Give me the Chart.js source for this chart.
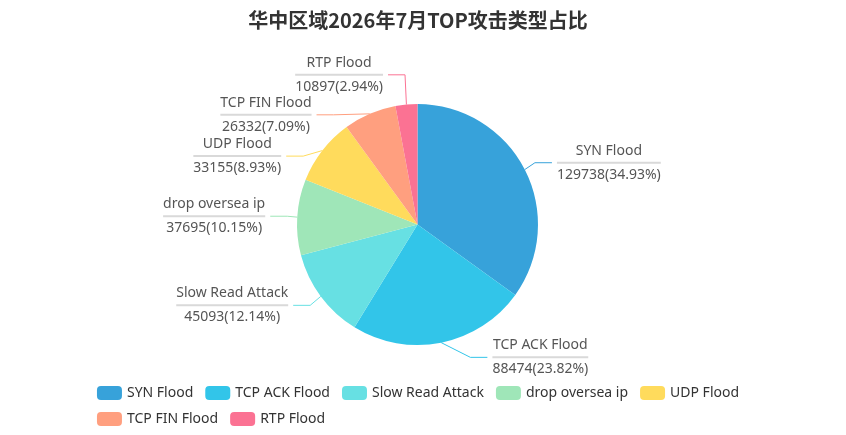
<!DOCTYPE html>
<html>
<head>
<meta charset="utf-8">
<script src="https://cdn.jsdelivr.net/npm/chart.js@4.4.1/dist/chart.umd.min.js"></script>
<style>
  html, body { margin: 0; padding: 0; background: #fff; }
  #wrap { width: 846px; height: 435px; position: relative; }
</style>
</head>
<body>
<div id="wrap"><canvas id="attack-pie"></canvas></div>
<script>
const chartTitle = '华中区域2026年7月TOP攻击类型占比';
const attackTypes = ['SYN Flood', 'TCP ACK Flood', 'Slow Read Attack', 'drop oversea ip', 'UDP Flood', 'TCP FIN Flood', 'RTP Flood'];
const attackCounts = [129738, 88474, 45093, 37695, 33155, 26332, 10897];
const sliceColors = ['#37a2da', '#32c5e9', '#67e0e3', '#9fe6b8', '#ffdb5c', '#ff9f7f', '#fb7293'];

const centerX = 418;
const labelFont = '14px "Noto Sans"';
const labelColor = '#555';

// largest remainder rounding, so the shown percents add up to 100
function percentsWithPrecision(values, precision) {
  const sum = values.reduce((a, b) => a + b, 0);
  const digits = Math.pow(10, precision);
  const target = digits * 100;
  const votes = values.map(v => v / sum * target);
  const seats = votes.map(v => Math.floor(v));
  const remainder = votes.map((v, i) => v - seats[i]);
  let current = seats.reduce((a, b) => a + b, 0);
  while (current < target) {
    let max = -1, maxId = -1;
    remainder.forEach((r, i) => { if (r > max) { max = r; maxId = i; } });
    seats[maxId]++;
    remainder[maxId] = 0;
    current++;
  }
  return seats.map(s => (s / digits).toFixed(precision));
}

// push labels on one side apart, then slide them along an ellipse
function adjustSide(list, cx, cy, r, dir, viewHeight) {
  list.sort((a, b) => a.y - b.y);
  function shiftUp(end, delta) {
    for (let j = end; j >= 0; j--) {
      if (list[j].y - delta < 0) break;
      list[j].y -= delta;
      if (j > 0 && list[j].y > list[j - 1].y + list[j - 1].h) break;
    }
  }
  function shiftDown(start, end, delta) {
    for (let j = start; j < end; j++) {
      if (list[j].y + delta > viewHeight) break;
      list[j].y += delta;
      if (j > start && j + 1 < end && list[j + 1].y > list[j].y + list[j].h) {
        shiftUp(j, delta / 2);
        return;
      }
    }
    shiftUp(end - 1, delta / 2);
  }
  function changeX(items, isDown) {
    let lastDeltaX = isDown ? Number.MAX_VALUE : 0;
    items.forEach(item => {
      const deltaY = Math.abs(item.y - cy);
      const R = r + item.len + item.len2;
      let deltaX = deltaY < r + item.len ? Math.sqrt(R * R - deltaY * deltaY) : Math.abs(item.x - cx);
      if (isDown && deltaX >= lastDeltaX) deltaX = lastDeltaX - 10;
      if (!isDown && deltaX <= lastDeltaX) deltaX = lastDeltaX + 10;
      item.x = cx + deltaX * dir;
      lastDeltaX = deltaX;
    });
  }
  let lastY = 0;
  for (let i = 0; i < list.length; i++) {
    const delta = list[i].y - lastY;
    if (delta < 0) shiftDown(i, list.length, -delta);
    lastY = list[i].y + list[i].h;
  }
  changeX(list.filter(it => it.y < cy), false);
  changeX(list.filter(it => it.y >= cy), true);
}

const titlePlugin = {
  id: 'titlePlugin',
  afterDraw(chart) {
    const ctx = chart.ctx;
    ctx.save();
    ctx.font = 'bold 20px "Noto Sans CJK SC"';
    ctx.fillStyle = '#333';
    ctx.textAlign = 'center';
    ctx.textBaseline = 'middle';
    ctx.fillText(chartTitle, centerX, 20);
    ctx.restore();
  }
};

const pieLabels = {
  id: 'pieLabels',
  afterDatasetsDraw(chart) {
    const ctx = chart.ctx;
    const arcs = chart.getDatasetMeta(0).data;
    const percents = percentsWithPrecision(attackCounts, 2);
    const len = 15, len2 = 17, gap = 5;
    let cx = 0, cy = 0, r = 0;
    const items = arcs.map((arc, i) => {
      const p = arc.getProps(['x', 'y', 'outerRadius', 'startAngle', 'endAngle'], true);
      cx = p.x; cy = p.y; r = p.outerRadius;
      const mid = (p.startAngle + p.endAngle) / 2;
      const dx = Math.cos(mid), dy = Math.sin(mid);
      const x1 = cx + r * dx, y1 = cy + r * dy;
      const x2 = x1 + dx * len, y2 = y1 + dy * len;
      const dir = dx < 0 ? -1 : 1;
      return { i, dir, len, len2, h: 40, x: x2 + dir * (len2 + gap), y: y2, edge: [x1, y1] };
    });
    const left = items.filter(it => it.dir < 0);
    const right = items.filter(it => it.dir > 0);
    adjustSide(left, cx, cy, r, -1, chart.height);
    adjustSide(right, cx, cy, r, 1, chart.height);

    ctx.save();
    ctx.font = labelFont;
    items.forEach(it => {
      const endX = it.x - it.dir * gap;
      const cornerX = endX - it.dir * it.len2;
      ctx.strokeStyle = sliceColors[it.i];
      ctx.lineWidth = 1;
      ctx.beginPath();
      ctx.moveTo(it.edge[0], it.edge[1]);
      ctx.lineTo(cornerX, it.y);
      ctx.lineTo(endX, it.y);
      ctx.stroke();

      const name = attackTypes[it.i];
      const value = attackCounts[it.i] + '(' + percents[it.i] + '%)';
      const w = Math.max(ctx.measureText(name).width, ctx.measureText(value).width);
      const boxLeft = it.dir > 0 ? it.x : it.x - w;
      const mid = boxLeft + w / 2;
      ctx.strokeStyle = '#d9d9d9';
      ctx.lineWidth = 2;
      ctx.beginPath();
      ctx.moveTo(boxLeft, it.y);
      ctx.lineTo(boxLeft + w, it.y);
      ctx.stroke();
      ctx.fillStyle = labelColor;
      ctx.textAlign = 'center';
      ctx.textBaseline = 'middle';
      ctx.fillText(name, mid, it.y - 12);
      ctx.fillText(value, mid, it.y + 12);
    });
    ctx.restore();
  }
};

const legendPlugin = {
  id: 'legendPlugin',
  afterDraw(chart) {
    const ctx = chart.ctx;
    const iconW = 25, iconH = 14, textGap = 5, itemGap = 12, rowGap = 26, maxRow = 700;
    ctx.save();
    ctx.font = labelFont;
    const rows = [[]];
    let rowW = 0;
    attackTypes.forEach((name, i) => {
      const w = iconW + textGap + ctx.measureText(name).width;
      const need = rows[rows.length - 1].length ? rowW + itemGap + w : w;
      if (need > maxRow) {
        rows.push([]);
        rowW = w;
      } else {
        rowW = need;
      }
      rows[rows.length - 1].push({ i, w });
    });
    const rowWidths = rows.map(row => row.reduce((s, it) => s + it.w, 0) + itemGap * (row.length - 1));
    const startX = centerX - Math.max(...rowWidths) / 2;
    rows.forEach((row, ri) => {
      const y = 393 + ri * rowGap;
      let x = startX;
      row.forEach(it => {
        ctx.fillStyle = sliceColors[it.i];
        ctx.beginPath();
        ctx.roundRect(x, y - iconH / 2, iconW, iconH, 4);
        ctx.fill();
        ctx.fillStyle = '#333';
        ctx.textAlign = 'left';
        ctx.textBaseline = 'middle';
        ctx.fillText(attackTypes[it.i], x + iconW + textGap, y);
        x += it.w + itemGap;
      });
    });
    ctx.restore();
  }
};

new Chart(document.getElementById('attack-pie'), {
  type: 'pie',
  data: {
    labels: attackTypes,
    datasets: [{
      data: attackCounts,
      backgroundColor: sliceColors,
      borderWidth: 0,
      hoverOffset: 0,
    }],
  },
  options: {
    responsive: true,
    maintainAspectRatio: false,
    animation: false,
    events: [],
    layout: { padding: { left: 297, right: 308, top: 104, bottom: 90 } },
    plugins: {
      legend: { display: false },
      tooltip: { enabled: false },
    },
  },
  plugins: [titlePlugin, pieLabels, legendPlugin],
});
</script>
</body>
</html>
